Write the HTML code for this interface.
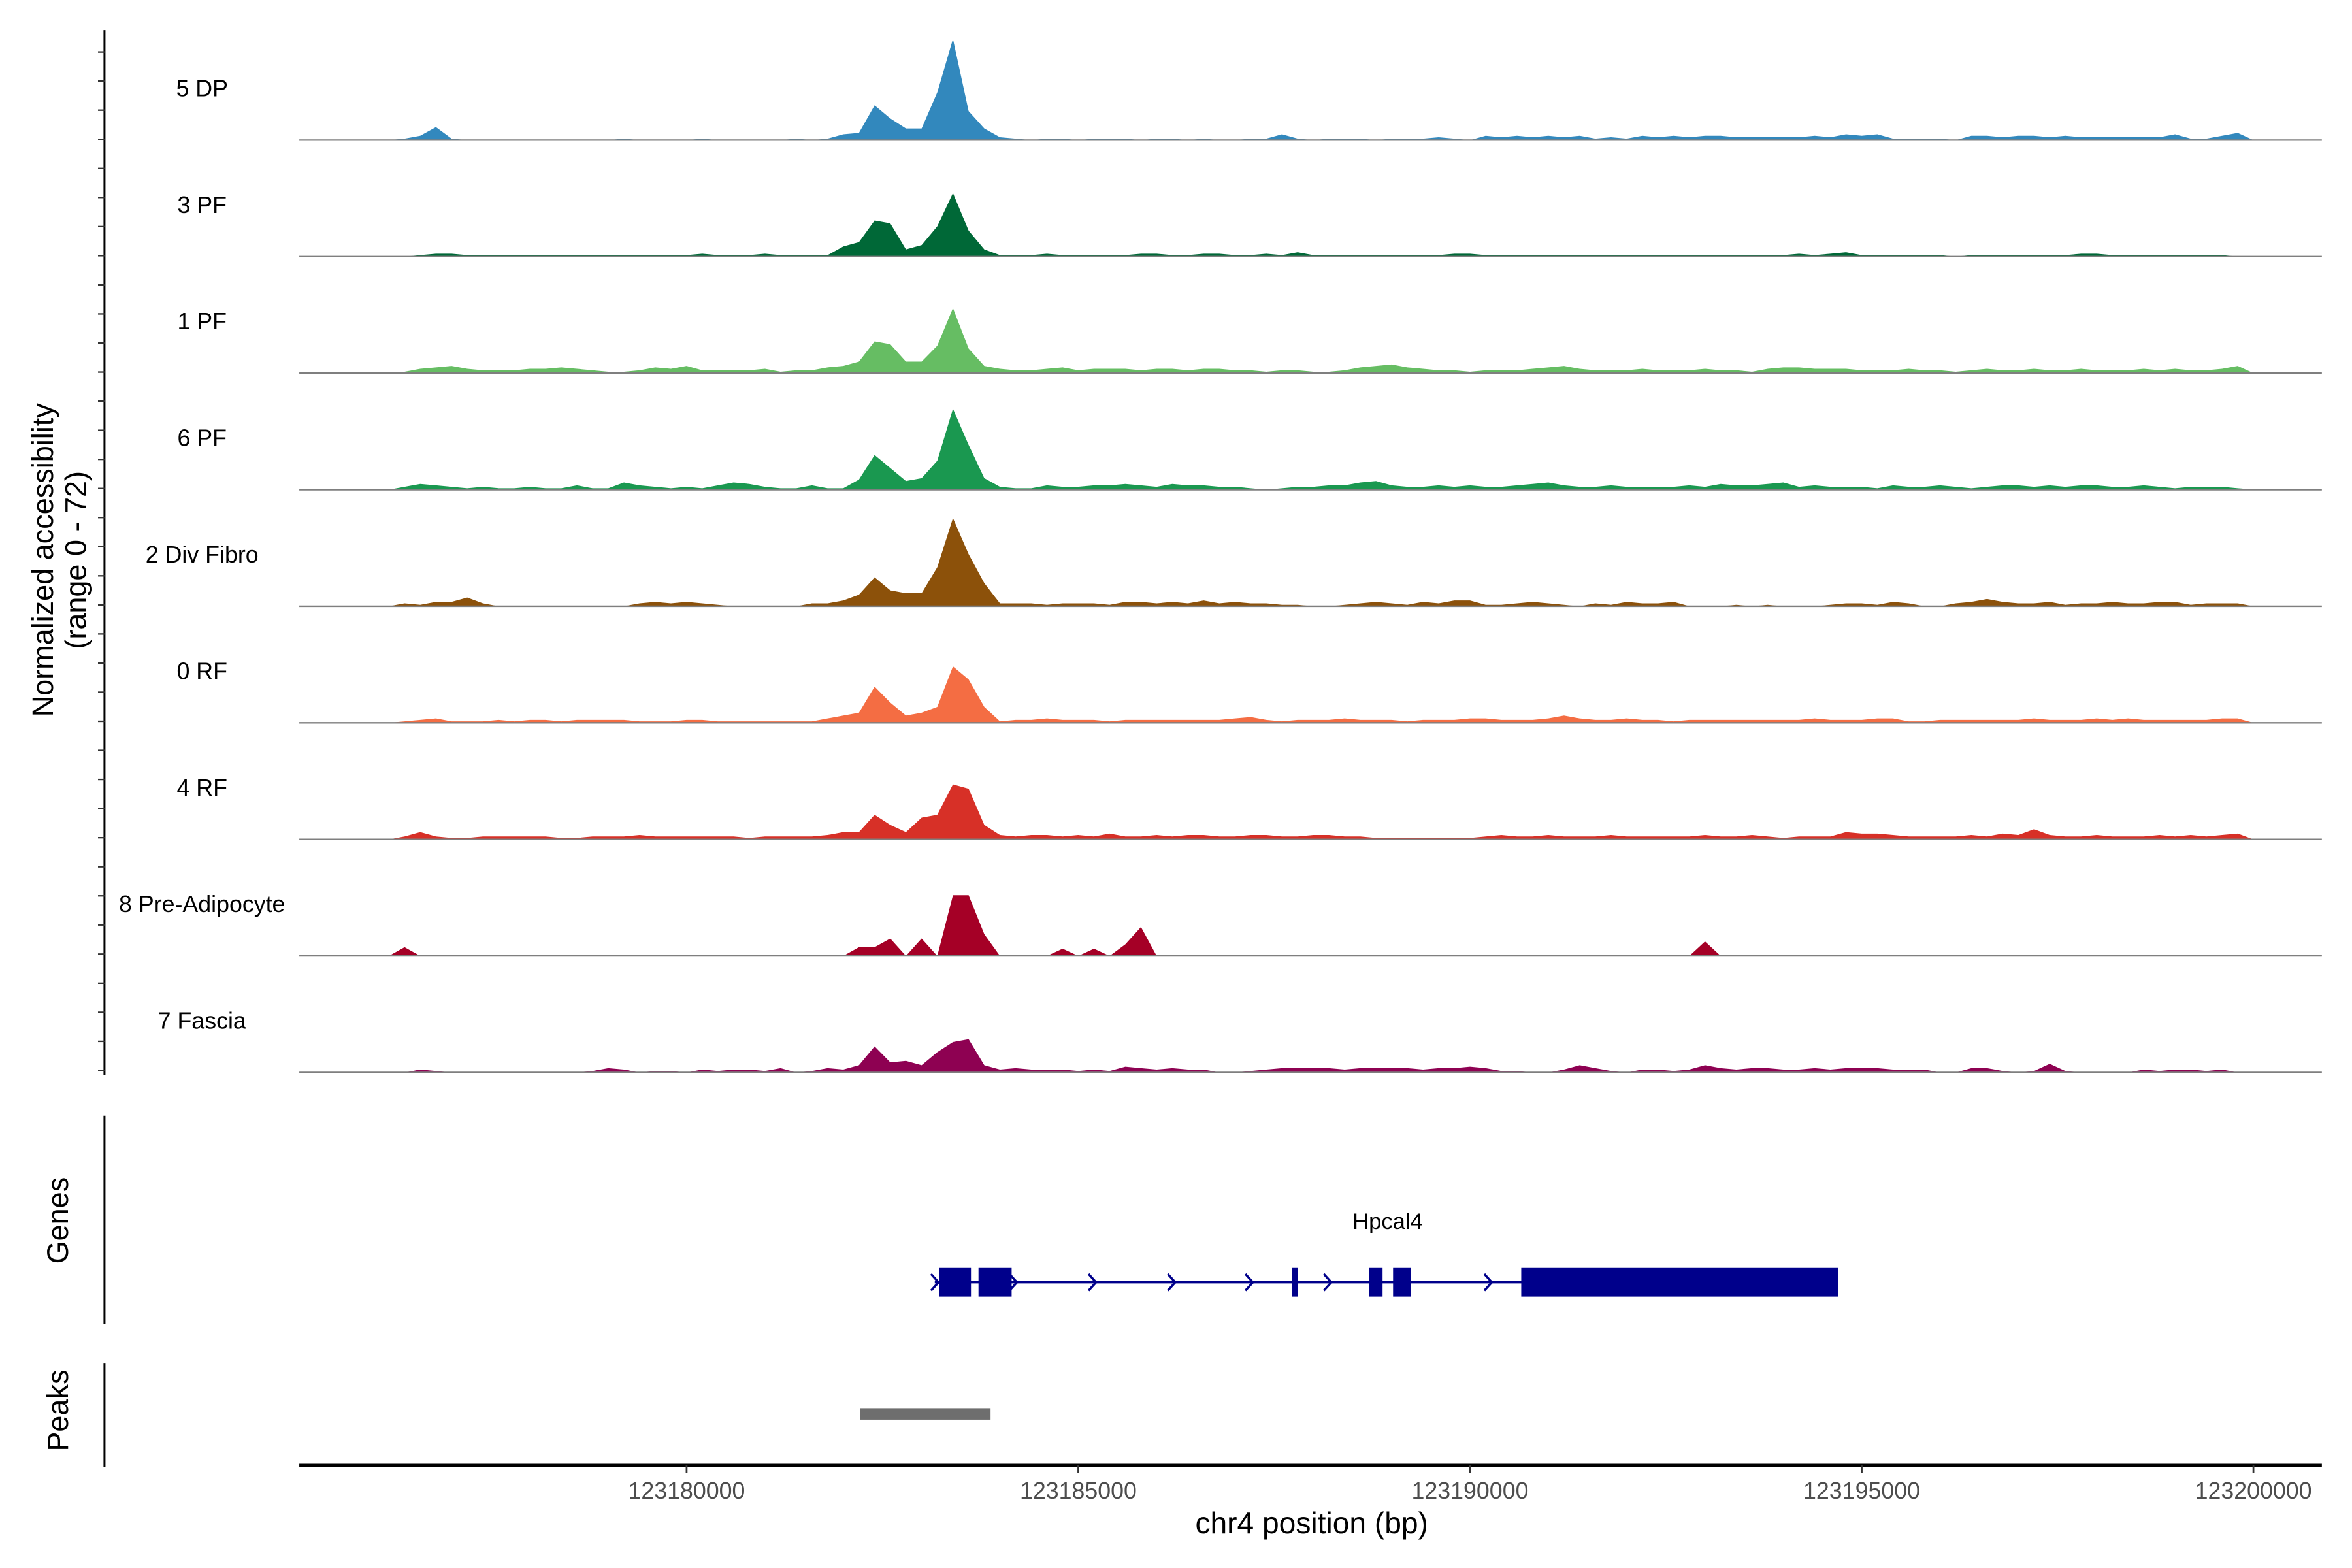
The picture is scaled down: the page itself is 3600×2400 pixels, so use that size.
<!DOCTYPE html>
<html><head><meta charset="utf-8"><style>
html,body{margin:0;padding:0;background:#fff;}
svg{display:block;font-family:"Liberation Sans",Arial,sans-serif;}
</style></head><body>
<svg id="chart" width="3600" height="2400" viewBox="0 0 1560 1040" xmlns="http://www.w3.org/2000/svg">
<rect width="1560" height="1040" fill="#fff"/>
<g id="tracks"></g>
<g id="yaxis"></g>
<text transform="translate(35,371.5) rotate(-90)" text-anchor="middle" font-size="19.5">Normalized accessibility</text>
<text transform="translate(57,371.5) rotate(-90)" text-anchor="middle" font-size="19.5">(range 0 - 72)</text>
<line x1="69.3" y1="740" x2="69.3" y2="878" stroke="#000" stroke-width="1.3"/>
<text transform="translate(45,809.5) rotate(-90)" text-anchor="middle" font-size="19.5">Genes</text>
<line x1="69.3" y1="904" x2="69.3" y2="973" stroke="#000" stroke-width="1.3"/>
<text transform="translate(45,935.6) rotate(-90)" text-anchor="middle" font-size="19.5">Peaks</text>
<g id="gene"></g>
<g id="peaks"></g>
<g id="xaxis"></g>
<text x="870" y="1017" text-anchor="middle" font-size="20">chr4 position (bp)</text>
</svg>
<script>
const trackNames = ["5 DP","3 PF","1 PF","6 PF","2 Div Fibro","0 RF","4 RF","8 Pre-Adipocyte","7 Fascia"];
const trackColors = ["#3288bd","#006837","#66bd63","#1a9850","#8c510a","#f46d43","#d73027","#a50026","#8e0152"];
const binStart = 123176100;
const binSize = 200;
const xTicks = [123180000,123185000,123190000,123195000,123200000];
const yMax = 72;
const dp5 = [0,1,3,9,1,0,0,0,0,0, 0,0,0,0,0,1,0,0,0,0, 1,0,0,0,0,0,1,0,1,4, 5,24,15,8,8,33,70,20,8,2, 1,0,1,1,0,1,1,1,0,1, 1,0,1,0,0,1,1,4,1,0, 1,1,1,0,1,1,1,2,1,0, 3,2,3,2,3,2,3,1,2,1, 3,2,3,2,3,3,2,2,2,2, 2,3,2,4,3,4,1,1,1,1, 0,3,3,2,3,3,2,3,2,2, 2,2,2,2,4,1,1,3,5,0];
const pf3 = [0,0,1,2,2,1,1,1,1,1, 1,1,1,1,1,1,1,1,1,1, 2,1,1,1,2,1,1,1,1,7, 10,25,23,5,8,21,44,18,5,1, 1,1,2,1,1,1,1,1,2,2, 1,1,2,2,1,1,2,1,3,1, 1,1,1,1,1,1,1,1,2,2, 1,1,1,1,1,1,1,1,1,1, 1,1,1,1,1,1,1,1,1,1, 2,1,2,3,1,1,1,1,1,1, 0,1,1,1,1,1,1,1,2,2, 1,1,1,1,1,1,1,1,0,0];
const pf1 = [0,1,3,4,5,3,2,2,2,3, 3,4,3,2,1,1,2,4,3,5, 2,2,2,2,3,1,2,2,4,5, 8,22,20,8,8,19,45,17,5,3, 2,2,3,4,2,3,3,3,2,3, 3,2,3,3,2,2,1,2,2,1, 1,2,4,5,6,4,3,2,2,1, 2,2,2,3,4,5,3,2,2,2, 3,2,2,2,3,2,2,1,3,4, 4,3,3,3,2,2,2,3,2,2, 1,2,3,2,2,3,2,2,3,2, 2,2,3,2,3,2,2,3,5,0];
const pf6 = [0,2,4,3,2,1,2,1,1,2, 1,1,3,1,1,5,3,2,1,2, 1,3,5,4,2,1,1,3,1,1, 7,24,15,6,8,20,56,31,8,2, 1,1,3,2,2,3,3,4,3,2, 4,3,3,2,2,1,0,1,2,2, 3,3,5,6,3,2,2,3,2,3, 2,2,3,4,5,3,2,2,3,2, 2,2,2,3,2,4,3,3,4,5, 2,3,2,2,2,1,3,2,2,3, 2,1,2,3,3,2,3,2,3,3, 2,2,3,2,1,2,2,2,1,0];
const divFibro2 = [0,2,1,3,3,6,2,0,0,0, 0,0,0,0,0,0,2,3,2,3, 2,1,0,0,0,0,0,2,2,4, 8,20,11,9,9,27,61,36,16,2, 2,2,1,2,2,2,1,3,3,2, 3,2,4,2,3,2,2,1,1,0, 0,1,2,3,2,1,3,2,4,4, 1,1,2,3,2,1,0,2,1,3, 2,2,3,0,0,0,1,0,1,0, 0,0,1,2,2,1,3,2,0,0, 2,3,5,3,2,2,3,1,2,2, 3,2,2,3,3,1,2,2,2,0];
const rf0 = [0,1,2,3,1,1,1,2,1,2, 2,1,2,2,2,2,1,1,1,2, 2,1,1,1,1,1,1,1,3,5, 7,25,14,5,7,11,39,30,11,1, 2,2,3,2,2,2,1,2,2,2, 2,2,2,2,3,4,2,1,2,2, 2,3,2,2,2,1,2,2,2,3, 3,2,2,2,3,5,3,2,2,3, 2,2,1,2,2,2,2,2,2,2, 2,3,2,2,2,3,3,1,1,2, 2,2,2,2,2,3,2,2,2,3, 2,3,2,2,2,2,2,3,3,0];
const rf4 = [0,2,5,2,1,1,2,2,2,2, 2,1,1,2,2,2,3,2,2,2, 2,2,2,1,2,2,2,2,3,5, 5,17,10,5,15,17,38,35,10,3, 2,3,3,2,3,2,4,2,2,3, 2,3,3,2,2,3,3,2,2,3, 3,2,2,1,1,1,1,1,1,1, 2,3,2,2,3,2,2,2,3,2, 2,2,2,2,3,2,2,3,2,1, 2,2,2,5,4,4,3,2,2,2, 2,3,2,4,3,7,3,2,2,3, 2,2,2,3,2,3,2,3,4,0];
const preAdipocyte8 = [0,6,0,0,0,0,0,0,0,0, 0,0,0,0,0,0,0,0,0,0, 0,0,0,0,0,0,0,0,0,0, 6,6,12,0,12,0,42,42,15,0, 0,0,0,5,0,5,0,8,20,0, 0,0,0,0,0,0,0,0,0,0, 0,0,0,0,0,0,0,0,0,0, 0,0,0,0,0,0,0,0,0,0, 0,0,0,0,10,0,0,0,0,0, 0,0,0,0,0,0,0,0,0,0, 0,0,0,0,0,0,0,0,0,0, 0,0,0,0,0,0,0,0,0,0];
const fascia7 = [0,0,2,1,0,0,0,0,0,0, 0,0,0,1,3,2,0,1,1,0, 2,1,2,2,1,3,0,1,3,2, 5,18,7,8,5,14,21,23,5,2, 3,2,2,2,1,2,1,4,3,2, 3,2,2,0,0,1,2,3,3,3, 3,2,3,3,3,3,2,3,3,4, 3,1,1,0,0,2,5,3,1,0, 2,2,1,2,5,3,2,3,3,2, 2,3,2,3,3,3,2,2,2,0, 0,3,3,1,0,1,6,1,0,0, 0,0,2,1,2,2,1,2,0,0];
const trackValues = [dp5,pf3,pf1,pf6,divFibro2,rf0,rf4,preAdipocyte8,fascia7];
const geneExons = [[123183226,123183630],[123183726,123184149],[123187728,123187806],[123188710,123188884],[123189018,123189249],[123190654,123194696]];
const geneSpan = [123183168,123194696];
const geneArrows = [123183168,123184169,123185179,123186190,123187181,123188182,123190231];
const peakRanges = [[123182219,123183880]];

const NS = "http://www.w3.org/2000/svg";
function el(tag, attrs, parent){const e=document.createElementNS(NS,tag);for(const k in attrs)e.setAttribute(k,attrs[k]);parent.appendChild(e);return e;}
function xScale(bp){return 455.4 + (bp-123180000)/5000*259.8;}
const trackTop0 = 92.9, trackStep = 77.3, trackH = 69;
function yScale(v, base){return base - v/yMax*trackH;}

const tracksG = document.getElementById("tracks");
trackValues.forEach((vals, t) => {
  const base = trackTop0 + t*trackStep;
  const g = el("g", {}, tracksG);
  
  
  const lbl = el("text", {x:134, y:base-29, "text-anchor":"middle", "font-size":"15.5"}, g);
  lbl.textContent = trackNames[t];
  
  
  let pts = [];
  pts.push(xScale(binStart + 0.5*binSize).toFixed(2)+","+base);
  vals.forEach((v,i) => {
    const x = xScale(binStart + (i+0.5)*binSize);
    pts.push(x.toFixed(2)+","+yScale(v, base).toFixed(2));
  });
  pts.push(xScale(binStart + (vals.length-0.5)*binSize).toFixed(2)+","+base);
  const area = el("polygon", {points:pts.join(" "), fill:trackColors[t]}, g);
  
  
  const bl = el("line", {x1:198.5, x2:1540, y1:base, y2:base, stroke:"#7f7f7f", "stroke-width":"1"}, g);
  
  
});

const yG = document.getElementById("yaxis");
const yl = el("line", {x1:69.3, x2:69.3, y1:20, y2:713, stroke:"#000", "stroke-width":"1.3"}, yG);


for (let k=0; k<37; k++){
  const y = 34.5 + k*19.3;
  if (y > 713) break;
  const tk = el("line", {x1:65, x2:69.3, y1:y, y2:y, stroke:"#333", "stroke-width":"1"}, yG);
  
  
}

const gG = document.getElementById("gene");
const gy = 850.5;
const gl = el("line", {x1:xScale(geneSpan[0]), x2:xScale(geneSpan[1]), y1:gy, y2:gy, stroke:"#00008b", "stroke-width":"1.5"}, gG);


geneExons.forEach(e => {
  const r = el("rect", {x:xScale(e[0]), y:841, width:Math.max(2,xScale(e[1])-xScale(e[0])), height:19, fill:"#00008b"}, gG);
  
  
});
geneArrows.forEach(b => {
  const x = xScale(b);
  const a = el("polyline", {points:`${x-2.5},${gy-5.5} ${x+2.5},${gy} ${x-2.5},${gy+5.5}`, fill:"none", stroke:"#00008b", "stroke-width":"1.5"}, gG);
  
  
});
const gt = el("text", {x:920.4, y:815, "text-anchor":"middle", "font-size":"15"}, gG);
gt.textContent = "Hpcal4";



const pG = document.getElementById("peaks");
peakRanges.forEach(p => {
  const r = el("rect", {x:xScale(p[0]), y:934, width:xScale(p[1])-xScale(p[0]), height:7.6, fill:"#6e6e6e"}, pG);
  
  
});

const xG = document.getElementById("xaxis");
const xl = el("line", {x1:198.5, x2:1540, y1:972, y2:972, stroke:"#000", "stroke-width":"2.2"}, xG);


xTicks.forEach(t => {
  const x = xScale(t);
  const tk = el("line", {x1:x, x2:x, y1:972, y2:977, stroke:"#333", "stroke-width":"1.2"}, xG);
  
  
  const tl = el("text", {x:x, y:994, "text-anchor":"middle", "font-size":"15.5", fill:"#4d4d4d"}, xG);
  tl.textContent = String(t);
  
  
});
</script>
</body></html>
